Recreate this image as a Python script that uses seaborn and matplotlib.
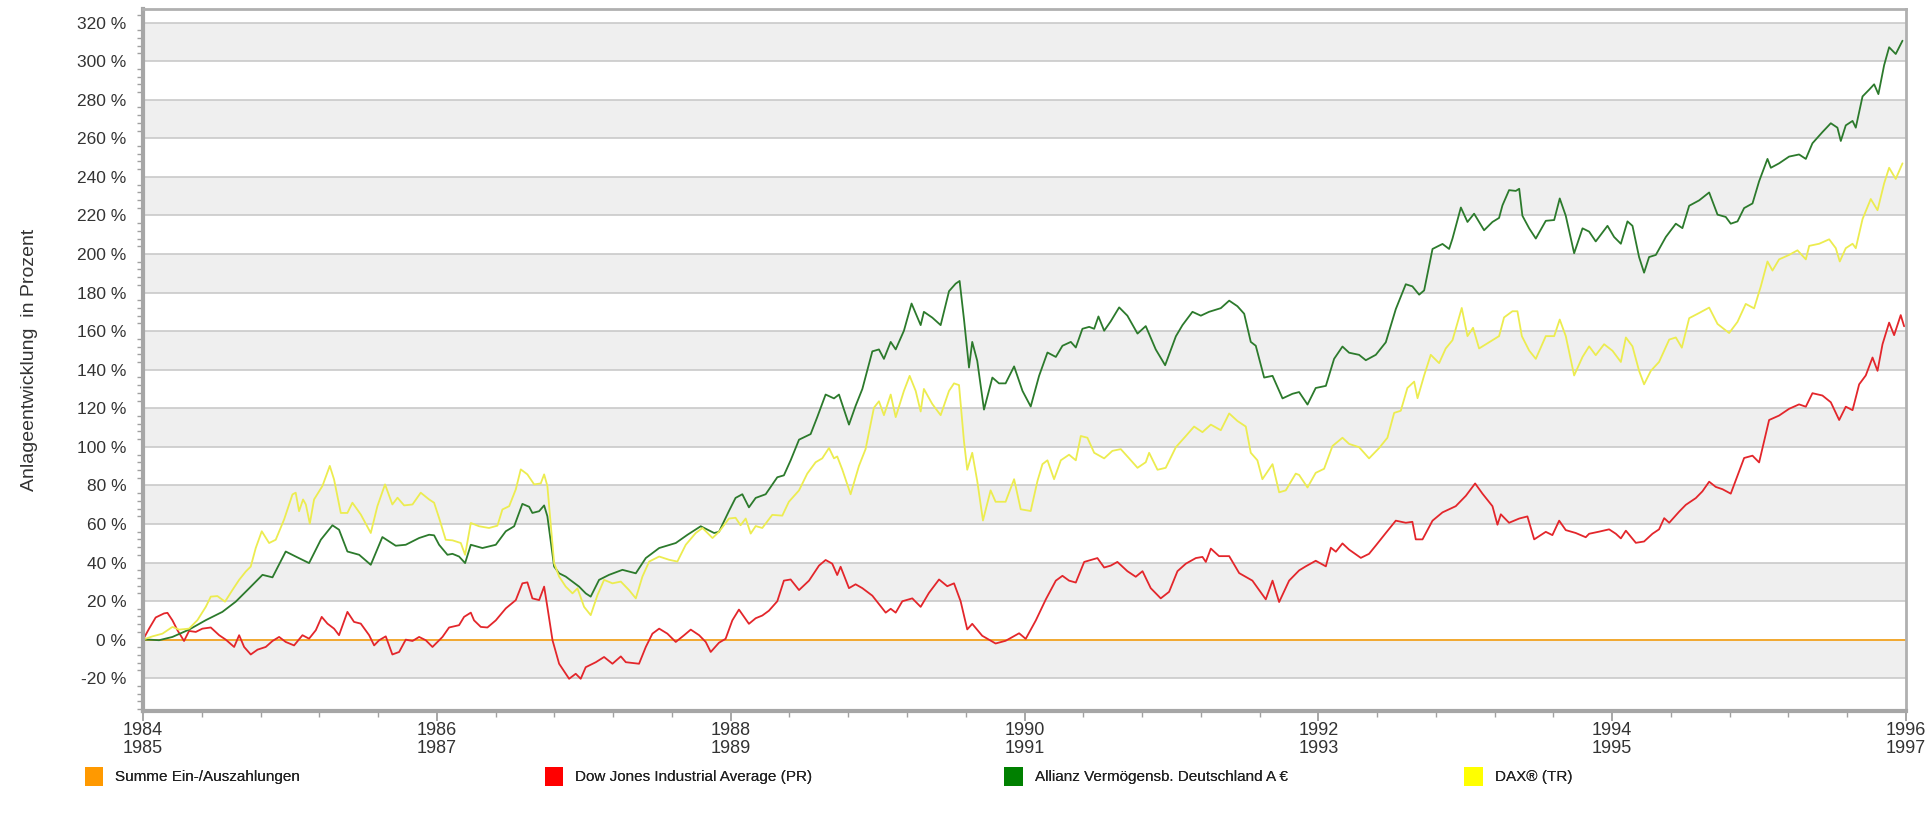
import numpy as np
import pandas as pd
import seaborn as sns
import matplotlib.pyplot as plt
from matplotlib.patches import Patch
from matplotlib.ticker import MultipleLocator, FuncFormatter

dow_jahr = [1984.000, 1984.041, 1984.086, 1984.143, 1984.166, 1984.200, 1984.234, 1984.279, 1984.313, 1984.359,
            1984.404, 1984.461, 1984.518, 1984.563, 1984.620, 1984.654, 1984.688, 1984.733, 1984.779, 1984.835,
            1984.881, 1984.926, 1984.971, 1985.028, 1985.085, 1985.130, 1985.176, 1985.216, 1985.255, 1985.300,
            1985.334, 1985.391, 1985.436, 1985.482, 1985.539, 1985.573, 1985.607, 1985.652, 1985.697, 1985.743,
            1985.788, 1985.834, 1985.879, 1985.924, 1985.970, 1986.038, 1986.083, 1986.151, 1986.185, 1986.231,
            1986.253, 1986.299, 1986.344, 1986.401, 1986.469, 1986.537, 1986.582, 1986.616, 1986.650, 1986.696,
            1986.730, 1986.752, 1986.787, 1986.832, 1986.900, 1986.945, 1986.979, 1987.013, 1987.082, 1987.138,
            1987.195, 1987.252, 1987.286, 1987.376, 1987.422, 1987.467, 1987.513, 1987.569, 1987.626, 1987.683,
            1987.728, 1987.785, 1987.830, 1987.864, 1987.920, 1987.965, 1988.011, 1988.056, 1988.124, 1988.170,
            1988.215, 1988.260, 1988.317, 1988.362, 1988.408, 1988.465, 1988.533, 1988.601, 1988.646, 1988.691,
            1988.725, 1988.748, 1988.805, 1988.850, 1988.896, 1988.964, 1989.055, 1989.089, 1989.123, 1989.168,
            1989.236, 1989.293, 1989.349, 1989.418, 1989.474, 1989.520, 1989.565, 1989.610, 1989.644, 1989.712,
            1989.803, 1989.871, 1989.895, 1989.963, 1990.008, 1990.077, 1990.145, 1990.213, 1990.258, 1990.303,
            1990.349, 1990.406, 1990.451, 1990.496, 1990.542, 1990.587, 1990.632, 1990.700, 1990.757, 1990.803,
            1990.859, 1990.927, 1990.984, 1991.041, 1991.098, 1991.166, 1991.211, 1991.234, 1991.268, 1991.324,
            1991.393, 1991.461, 1991.551, 1991.642, 1991.688, 1991.733, 1991.801, 1991.869, 1991.914, 1991.982,
            1992.051, 1992.085, 1992.119, 1992.164, 1992.209, 1992.289, 1992.345, 1992.391, 1992.459, 1992.527,
            1992.595, 1992.640, 1992.663, 1992.709, 1992.777, 1992.845, 1992.935, 1993.004, 1993.067, 1993.117,
            1993.185, 1993.219, 1993.242, 1993.298, 1993.367, 1993.423, 1993.469, 1993.548, 1993.593, 1993.639,
            1993.684, 1993.752, 1993.820, 1993.843, 1993.911, 1993.979, 1994.025, 1994.059, 1994.093, 1994.161,
            1994.217, 1994.274, 1994.319, 1994.354, 1994.388, 1994.456, 1994.501, 1994.569, 1994.614, 1994.660,
            1994.705, 1994.751, 1994.807, 1994.841, 1994.898, 1994.955, 1995.000, 1995.068, 1995.136, 1995.204,
            1995.272, 1995.318, 1995.363, 1995.431, 1995.488, 1995.545, 1995.590, 1995.636, 1995.681, 1995.726,
            1995.772, 1995.806, 1995.840, 1995.885, 1995.919, 1995.964, 1995.987]
dow_wert = [0.0, 5.7, 11.5, 13.6, 13.9, 10.0, 4.9, -0.7, 4.5, 4.0,
            5.7, 6.3, 2.3, 0.0, -3.8, 2.3, -3.8, -7.7, -5.2, -3.8,
            -0.7, 1.4, -1.2, -3.0, 2.3, 0.5, 4.9, 11.8, 8.3, 5.7,
            2.3, 14.4, 9.2, 8.3, 2.3, -3.0, -0.3, 1.7, -7.7, -6.4,
            0.0, -0.7, 1.4, -0.3, -3.8, 1.4, 6.3, 7.5, 11.8, 14.0,
            10.0, 6.6, 6.3, 10.0, 16.2, 20.5, 29.2, 29.7, 21.4, 20.5,
            27.5, 17.0, -0.3, -12.5, -20.3, -17.7, -20.3, -14.3, -11.7, -9.0,
            -12.5, -8.7, -11.7, -12.5, -3.8, 3.1, 5.7, 3.1, -1.2, 2.3,
            5.2, 2.3, -1.2, -6.4, -1.6, 0.4, 10.0, 15.6, 8.2, 11.1,
            12.5, 15.0, 19.9, 30.6, 31.2, 25.7, 30.6, 38.4, 41.3, 39.4,
            33.5, 37.8, 26.7, 28.7, 26.7, 22.8, 14.0, 16.0, 14.0, 19.9,
            21.4, 17.0, 24.2, 31.2, 27.7, 29.2, 19.9, 5.3, 8.2, 2.0,
            -2.0, -0.6, 0.4, 3.3, 0.4, 10.0, 20.9, 30.6, 33.1, 30.6,
            29.6, 40.3, 41.3, 42.3, 37.4, 38.4, 40.3, 35.5, 32.6, 35.5,
            26.7, 21.4, 24.8, 35.5, 39.4, 42.3, 42.9, 40.3, 47.2, 43.3,
            43.3, 34.5, 30.6, 20.9, 30.6, 19.5, 30.6, 35.9, 38.0, 40.9,
            38.0, 47.7, 45.6, 49.9, 46.7, 42.4, 44.5, 48.8, 55.3, 61.7,
            60.6, 61.1, 52.0, 52.0, 61.7, 66.0, 69.2, 74.6, 81.0, 75.7,
            69.2, 59.6, 65.0, 60.6, 62.8, 63.9, 52.0, 55.9, 54.2, 61.7,
            56.8, 55.3, 53.1, 54.9, 56.0, 57.2, 54.9, 52.5, 56.5, 50.2,
            50.9, 54.9, 57.2, 63.0, 60.6, 66.4, 69.9, 73.4, 76.9, 81.9,
            79.2, 78.0, 75.7, 82.6, 94.2, 95.4, 91.9, 113.9, 116.2, 119.7,
            122.0, 120.8, 127.8, 126.6, 123.1, 113.9, 120.8, 119.0, 132.4, 137.0,
            146.3, 139.4, 153.2, 164.4, 157.9, 168.3, 162.5]

allianz_jahr = [1984.000, 1984.041, 1984.109, 1984.200, 1984.313, 1984.427, 1984.540, 1984.631, 1984.722, 1984.813,
                1984.881, 1984.971, 1985.039, 1985.130, 1985.210, 1985.289, 1985.334, 1985.391, 1985.471, 1985.550,
                1985.629, 1985.720, 1985.788, 1985.879, 1985.947, 1985.981, 1986.015, 1986.072, 1986.106, 1986.151,
                1986.192, 1986.231, 1986.310, 1986.401, 1986.469, 1986.526, 1986.582, 1986.628, 1986.650, 1986.696,
                1986.730, 1986.752, 1986.798, 1986.832, 1986.877, 1986.923, 1986.968, 1987.013, 1987.047, 1987.104,
                1987.172, 1987.263, 1987.354, 1987.422, 1987.513, 1987.626, 1987.706, 1987.796, 1987.887, 1987.920,
                1987.988, 1988.033, 1988.079, 1988.124, 1988.170, 1988.238, 1988.317, 1988.362, 1988.408, 1988.465,
                1988.544, 1988.589, 1988.646, 1988.703, 1988.737, 1988.805, 1988.850, 1988.896, 1988.964, 1989.009,
                1989.043, 1989.089, 1989.123, 1989.179, 1989.231, 1989.293, 1989.315, 1989.372, 1989.429, 1989.486,
                1989.531, 1989.558, 1989.588, 1989.622, 1989.644, 1989.678, 1989.724, 1989.781, 1989.826, 1989.871,
                1989.929, 1989.986, 1990.042, 1990.099, 1990.156, 1990.213, 1990.258, 1990.315, 1990.349, 1990.394,
                1990.440, 1990.474, 1990.503, 1990.542, 1990.587, 1990.644, 1990.700, 1990.769, 1990.825, 1990.893,
                1990.957, 1991.030, 1991.075, 1991.143, 1991.200, 1991.256, 1991.336, 1991.393, 1991.449, 1991.495,
                1991.540, 1991.574, 1991.631, 1991.688, 1991.756, 1991.824, 1991.869, 1991.926, 1991.982, 1992.051,
                1992.107, 1992.164, 1992.209, 1992.277, 1992.323, 1992.391, 1992.459, 1992.527, 1992.595, 1992.640,
                1992.686, 1992.720, 1992.777, 1992.845, 1992.890, 1992.913, 1992.970, 1993.015, 1993.060, 1993.128,
                1993.185, 1993.230, 1993.253, 1993.298, 1993.344, 1993.367, 1993.389, 1993.435, 1993.480, 1993.548,
                1993.605, 1993.643, 1993.684, 1993.741, 1993.798, 1993.843, 1993.888, 1993.968, 1994.013, 1994.059,
                1994.104, 1994.138, 1994.183, 1994.217, 1994.251, 1994.297, 1994.365, 1994.433, 1994.478, 1994.524,
                1994.592, 1994.660, 1994.717, 1994.773, 1994.807, 1994.853, 1994.898, 1994.955, 1995.000, 1995.057,
                1995.080, 1995.136, 1995.204, 1995.272, 1995.318, 1995.363, 1995.431, 1995.488, 1995.533, 1995.556,
                1995.590, 1995.636, 1995.658, 1995.704, 1995.749, 1995.783, 1995.812, 1995.851, 1995.885, 1995.930,
                1995.976]
allianz_wert = [0.0, 0.0, -0.3, 1.4, 5.2, 10.1, 14.4, 19.7, 26.6, 33.6,
                32.3, 45.7, 43.1, 39.7, 51.8, 59.3, 57.0, 45.7, 44.0, 38.8,
                53.2, 48.7, 49.2, 52.7, 54.4, 54.1, 49.2, 44.0, 44.5, 43.1,
                39.7, 49.2, 47.5, 49.2, 56.2, 58.8, 70.4, 68.9, 65.7, 66.6,
                69.6, 64.0, 37.9, 34.4, 32.7, 30.1, 27.5, 24.0, 22.3, 31.0,
                33.6, 36.2, 34.4, 42.3, 47.5, 50.1, 54.4, 58.8, 55.3, 55.9,
                66.7, 73.5, 75.4, 68.6, 73.5, 75.4, 84.2, 85.2, 93.0, 103.7,
                106.6, 115.4, 127.1, 125.1, 127.1, 111.5, 121.2, 130.0, 149.5, 150.5,
                145.6, 154.4, 150.5, 160.2, 174.3, 163.1, 170.0, 167.0, 163.1, 180.7,
                184.6, 186.0, 166.0, 141.1, 154.4, 144.6, 119.3, 135.9, 132.9, 132.9,
                141.7, 129.0, 120.9, 136.8, 148.9, 146.6, 152.4, 154.4, 151.5, 161.2,
                162.2, 161.2, 167.6, 160.2, 165.1, 172.3, 168.0, 158.7, 162.6, 150.5,
                142.3, 157.3, 163.1, 170.0, 168.0, 170.0, 171.9, 175.8, 172.9, 169.0,
                154.4, 152.4, 135.9, 136.8, 125.1, 127.5, 128.4, 121.9, 130.5, 131.6,
                145.6, 152.0, 148.8, 147.7, 144.9, 147.7, 154.2, 171.4, 184.3, 183.2,
                178.9, 181.1, 202.6, 205.2, 202.6, 208.0, 224.1, 216.6, 220.9, 212.3,
                216.6, 218.7, 225.2, 233.1, 232.7, 233.8, 219.8, 213.3, 208.0, 217.2,
                217.6, 228.8, 219.8, 200.4, 213.3, 211.6, 206.5, 214.6, 208.8, 205.3,
                216.9, 214.6, 198.4, 190.3, 198.4, 199.5, 208.8, 215.7, 213.4, 225.0,
                227.8, 231.9, 220.4, 219.2, 215.7, 216.9, 223.8, 226.2, 237.7, 249.3,
                244.7, 247.0, 250.5, 251.6, 249.3, 257.4, 263.2, 267.8, 265.5, 258.6,
                266.7, 269.0, 265.5, 281.7, 285.2, 288.0, 282.9, 297.9, 307.2, 303.7,
                310.6]

dax_jahr = [1984.000, 1984.064, 1984.132, 1984.200, 1984.245, 1984.313, 1984.370, 1984.427, 1984.461, 1984.506,
            1984.558, 1984.608, 1984.654, 1984.699, 1984.733, 1984.767, 1984.808, 1984.858, 1984.903, 1984.960,
            1985.017, 1985.039, 1985.062, 1985.089, 1985.108, 1985.135, 1985.164, 1985.221, 1985.271, 1985.300,
            1985.346, 1985.391, 1985.425, 1985.482, 1985.550, 1985.595, 1985.647, 1985.697, 1985.732, 1985.777,
            1985.834, 1985.890, 1985.947, 1985.981, 1986.015, 1986.060, 1986.106, 1986.163, 1986.192, 1986.231,
            1986.287, 1986.355, 1986.412, 1986.446, 1986.492, 1986.537, 1986.571, 1986.616, 1986.662, 1986.707,
            1986.730, 1986.752, 1986.798, 1986.832, 1986.877, 1986.923, 1986.957, 1987.002, 1987.047, 1987.093,
            1987.138, 1987.195, 1987.252, 1987.308, 1987.354, 1987.399, 1987.445, 1987.513, 1987.581, 1987.637,
            1987.694, 1987.762, 1987.808, 1987.876, 1987.920, 1987.988, 1988.033, 1988.067, 1988.102, 1988.136,
            1988.170, 1988.215, 1988.283, 1988.351, 1988.396, 1988.465, 1988.521, 1988.578, 1988.623, 1988.669,
            1988.703, 1988.725, 1988.760, 1988.816, 1988.873, 1988.918, 1988.975, 1989.009, 1989.043, 1989.089,
            1989.123, 1989.179, 1989.218, 1989.259, 1989.293, 1989.315, 1989.372, 1989.429, 1989.486, 1989.520,
            1989.554, 1989.588, 1989.610, 1989.644, 1989.678, 1989.717, 1989.769, 1989.803, 1989.871, 1989.929,
            1989.974, 1990.042, 1990.088, 1990.122, 1990.156, 1990.201, 1990.247, 1990.303, 1990.349, 1990.383,
            1990.428, 1990.474, 1990.542, 1990.598, 1990.655, 1990.712, 1990.769, 1990.825, 1990.848, 1990.905,
            1990.961, 1991.030, 1991.098, 1991.154, 1991.211, 1991.268, 1991.336, 1991.393, 1991.449, 1991.506,
            1991.540, 1991.585, 1991.619, 1991.688, 1991.733, 1991.778, 1991.846, 1991.869, 1991.926, 1991.982,
            1992.039, 1992.096, 1992.164, 1992.209, 1992.277, 1992.345, 1992.414, 1992.470, 1992.516, 1992.561,
            1992.606, 1992.652, 1992.675, 1992.720, 1992.765, 1992.822, 1992.867, 1992.913, 1992.976, 1993.015,
            1993.053, 1993.094, 1993.162, 1993.230, 1993.264, 1993.321, 1993.355, 1993.385, 1993.435, 1993.480,
            1993.548, 1993.605, 1993.643, 1993.684, 1993.741, 1993.798, 1993.843, 1993.888, 1993.945, 1994.002,
            1994.059, 1994.093, 1994.138, 1994.183, 1994.217, 1994.263, 1994.319, 1994.388, 1994.433, 1994.474,
            1994.524, 1994.592, 1994.660, 1994.717, 1994.796, 1994.853, 1994.909, 1994.966, 1995.012, 1995.057,
            1995.091, 1995.136, 1995.204, 1995.261, 1995.318, 1995.341, 1995.409, 1995.477, 1995.522, 1995.549,
            1995.590, 1995.636, 1995.658, 1995.704, 1995.760, 1995.806, 1995.851, 1995.885, 1995.930, 1995.976]
dax_wert = [0.0, 1.7, 3.1, 6.6, 5.2, 5.7, 10.1, 17.0, 22.3, 22.6,
            19.7, 25.7, 31.0, 35.3, 37.9, 47.5, 56.2, 50.1, 51.8, 62.3,
            75.3, 76.2, 66.6, 72.7, 70.1, 60.2, 72.7, 79.7, 90.1, 83.1,
            65.7, 65.7, 71.0, 64.9, 55.3, 69.2, 80.5, 70.1, 73.6, 69.6,
            70.1, 76.2, 72.7, 71.0, 63.1, 51.8, 51.5, 50.1, 44.0, 60.5,
            58.8, 57.9, 59.1, 67.5, 69.2, 77.9, 88.3, 85.7, 80.5, 81.0,
            85.7, 79.7, 39.7, 32.7, 27.5, 24.0, 26.6, 17.0, 12.7, 23.1,
            31.0, 29.2, 30.1, 25.7, 21.4, 32.7, 40.5, 43.1, 41.4, 40.5,
            49.2, 55.3, 57.9, 52.7, 55.9, 62.8, 63.2, 59.3, 62.8, 55.0,
            58.9, 57.9, 64.7, 64.3, 71.5, 77.4, 86.1, 92.0, 94.0, 99.4,
            94.0, 95.0, 88.1, 75.4, 90.1, 98.8, 120.3, 123.6, 116.4, 127.1,
            115.4, 129.0, 136.8, 129.0, 118.3, 130.0, 122.2, 116.4, 129.0, 132.9,
            132.0, 102.7, 88.1, 96.9, 82.3, 61.8, 77.4, 71.5, 71.5, 83.2,
            67.6, 66.7, 82.3, 91.0, 93.0, 83.2, 93.0, 95.9, 93.0, 105.6,
            104.7, 96.9, 94.0, 97.9, 98.8, 94.0, 89.1, 92.0, 96.9, 88.1,
            89.1, 99.8, 105.6, 110.5, 107.6, 111.5, 108.6, 117.3, 113.4, 110.5,
            96.9, 93.0, 83.2, 91.0, 76.4, 77.4, 86.1, 85.4, 78.9, 86.5,
            88.6, 100.4, 104.7, 101.5, 99.8, 94.0, 99.4, 104.7, 117.6, 118.7,
            130.5, 133.8, 125.2, 137.0, 147.7, 143.4, 151.0, 155.3, 172.0, 157.4,
            161.7, 151.0, 154.2, 157.4, 167.1, 170.3, 170.3, 157.4, 149.9, 145.6,
            157.4, 157.4, 166.0, 157.4, 137.0, 146.6, 152.1, 147.5, 153.2, 149.8,
            144.0, 156.7, 152.1, 139.4, 132.4, 139.4, 144.0, 155.6, 156.7, 151.4,
            166.7, 169.4, 172.2, 163.7, 159.0, 164.8, 174.1, 171.8, 183.3, 196.1,
            191.4, 197.2, 199.5, 201.9, 197.2, 204.2, 205.3, 207.6, 203.0, 196.1,
            203.0, 205.3, 203.0, 218.1, 228.5, 222.7, 236.6, 244.7, 238.9, 247.0]

summe_jahr = [1984.0, 1996.0]
summe_wert = [0.0, 0.0]

serien = ['Summe Ein-/Auszahlungen', 'Dow Jones Industrial Average (PR)',
          'Allianz Vermögensb. Deutschland A €', 'DAX® (TR)']
linien_farben = ['#f5a623', '#e3262b', '#2c7a2c', '#ecec50']
legenden_farben = ['#ff9900', '#ff0000', '#008000', '#ffff00']
tick_jahre = [1984, 1986, 1988, 1990, 1992, 1994, 1996]
tick_labels = ['1984\n1985', '1986\n1987', '1988\n1989', '1990\n1991',
               '1992\n1993', '1994\n1995', '1996\n1997']

frames = []
for name, t, v in zip(serien, [summe_jahr, dow_jahr, allianz_jahr, dax_jahr],
                      [summe_wert, dow_wert, allianz_wert, dax_wert]):
    frames.append(pd.DataFrame({'Jahr': t, 'Wert': v, 'Serie': name}))
df = pd.concat(frames, ignore_index=True)

sns.set_style('white')
plt.rcParams['font.family'] = ['Liberation Sans', 'DejaVu Sans']
narrow = ['Liberation Sans Narrow', 'Liberation Sans', 'DejaVu Sans']

fig = plt.figure(figsize=(19.28, 8.25), dpi=100)
ax = fig.add_axes([0.0742, 0.1382, 0.9144, 0.8508])

ymin, ymax = -37, 327
for lo in range(-20, 320, 40):
    ax.axhspan(lo, lo + 20, color='#efefef', lw=0, zorder=0)
for y in range(-20, 321, 20):
    ax.axhline(y, color='#c9c9c9', lw=1.2, zorder=0.5)

sns.lineplot(data=df, x='Jahr', y='Wert', hue='Serie', hue_order=serien,
             palette=dict(zip(serien, linien_farben)), estimator=None, sort=False,
             legend=False, lw=1.3, ax=ax)

ax.set_xlim(1984, 1996)
ax.set_ylim(ymin, ymax)
ax.set_xticks(tick_jahre)
ax.set_xticklabels(tick_labels, family=narrow, fontsize=13, color='#333333', linespacing=1.05)
ax.xaxis.set_minor_locator(MultipleLocator(0.4))
ax.yaxis.set_major_locator(MultipleLocator(20))
ax.yaxis.set_minor_locator(MultipleLocator(4))
ax.yaxis.set_major_formatter(FuncFormatter(lambda v, p: f'{int(v)} %'))
ax.tick_params(axis='y', which='major', length=8, width=1.3, color='#a0a0a0',
               labelsize=12.5, labelcolor='#333333', pad=4)
ax.tick_params(axis='y', which='minor', length=4, width=1, color='#a0a0a0', left=True)
ax.tick_params(axis='x', which='major', length=7, width=1.3, color='#a0a0a0', pad=1, bottom=True)
ax.tick_params(axis='x', which='minor', length=4, width=1, color='#a0a0a0', bottom=True)
ax.set_xlabel('')
ax.set_ylabel('Anlageentwicklung  in Prozent', family=narrow, fontsize=14, color='#333333', labelpad=28)

for side in ['left', 'bottom']:
    ax.spines[side].set_color('#a6a6a6')
    ax.spines[side].set_linewidth(3)
for side in ['top', 'right']:
    ax.spines[side].set_color('#b0b0b0')
    ax.spines[side].set_linewidth(2)

legend_x = [0.044, 0.2825, 0.521, 0.7595]
for name, col, lx in zip(serien, legenden_farben, legend_x):
    leg = fig.legend(handles=[Patch(facecolor=col, edgecolor='none', label=name)],
                     loc='center left', bbox_to_anchor=(lx, 0.059), frameon=False,
                     borderpad=0, borderaxespad=0, handlelength=1.2, handleheight=1.5,
                     handletextpad=0.8, prop={'family': narrow, 'size': 11})
    for txt in leg.get_texts():
        txt.set_color('#222222')
    fig.add_artist(leg)

fig.savefig('out.png', dpi=100)
